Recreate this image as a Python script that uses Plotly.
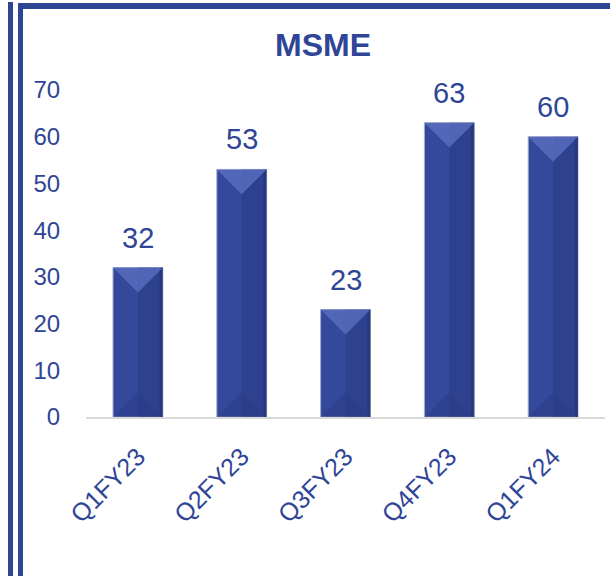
import plotly.graph_objects as go

categories = ["Q1FY23", "Q2FY23", "Q3FY23", "Q4FY23", "Q1FY24"]
values = [32, 53, 23, 63, 60]
y_ticks = [0, 10, 20, 30, 40, 50, 60, 70]
title_text = "MSME"

W, H = 610, 576
ML, MR, MT, MB = 86, 5, 90, 159
PW, PH = W - ML - MR, H - MT - MB
YMAX = 70
BAR_W = 0.48

TXT = "#2F4596"
BAR = "#34489C"
FONT = "Liberation Sans, Arial, sans-serif"

fig = go.Figure()
xs = list(range(len(categories)))
fig.add_trace(go.Bar(
    x=xs, y=values, width=BAR_W,
    marker=dict(color=BAR, line=dict(color="#A7AECB", width=1)),
    cliponaxis=False,
))

annotations = []
for i, v in zip(xs, values):
    annotations.append(dict(x=i, y=v, xref="x", yref="y", text=str(v), showarrow=False,
                            yanchor="bottom", xanchor="center", yshift=12,
                            font=dict(size=29, color=TXT, family=FONT)))

# bevel shading derived from data
px_per_unit_y = PH / YMAX
px_per_cat = PW / len(categories)
d_units = (BAR_W / 2) * px_per_cat / px_per_unit_y
shapes = []
for i, v in zip(xs, values):
    l, r = i - BAR_W / 2, i + BAR_W / 2
    shapes.append(dict(type="rect", xref="x", yref="y", x0=i, x1=r, y0=0, y1=v,
                       fillcolor="#27397F", opacity=0.45, line=dict(width=0), layer="above"))
    shapes.append(dict(type="rect", xref="x", yref="y", x0=r - 0.03, x1=r, y0=0, y1=v,
                       fillcolor="#1E2D6A", opacity=0.5, line=dict(width=0), layer="above"))
    dd = min(d_units, v / 2)
    shapes.append(dict(type="path", xref="x", yref="y",
                       path=f"M {l},{v} L {r},{v} L {i},{v - dd} Z",
                       fillcolor="#5C71C2", opacity=0.75, line=dict(width=0), layer="above"))
    shapes.append(dict(type="path", xref="x", yref="y",
                       path=f"M {l},0 L {r},0 L {i},{dd} Z",
                       fillcolor="#2A3C85", opacity=0.5, line=dict(width=0), layer="above"))

def px_x(p):
    return (p - ML) / PW

def px_y(p):
    return (H - MB - p) / PH

BC = "#2E4593"
shapes.append(dict(type="line", xref="paper", yref="paper",
                   x0=px_x(10.5), x1=px_x(10.5), y0=px_y(2), y1=px_y(580),
                   line=dict(color=BC, width=5)))
shapes.append(dict(type="line", xref="paper", yref="paper",
                   x0=px_x(20.5), x1=px_x(20.5), y0=px_y(4), y1=px_y(580),
                   line=dict(color=BC, width=5)))
shapes.append(dict(type="line", xref="paper", yref="paper",
                   x0=px_x(18), x1=px_x(615), y0=px_y(6), y1=px_y(6),
                   line=dict(color=BC, width=6)))

fig.update_layout(
    width=W, height=H,
    margin=dict(l=ML, r=MR, t=MT, b=MB),
    paper_bgcolor="white", plot_bgcolor="white",
    showlegend=False,
    title=dict(text=f"<b>{title_text}</b>", x=323 / W, y=1 - 45 / H,
               xref="container", yref="container", xanchor="center", yanchor="middle",
               font=dict(size=32, color=TXT, family=FONT)),
    xaxis=dict(tickmode="array", tickvals=xs, ticktext=categories, range=[-0.5, 4.5],
               tickangle=-45, tickfont=dict(size=25, color=TXT, family=FONT),
               showline=True, linecolor="#D9D9D9", linewidth=2, showgrid=False,
               zeroline=False, ticks="outside", ticklen=13, tickcolor="rgba(0,0,0,0)"),
    yaxis=dict(range=[0, YMAX], tickvals=y_ticks, showgrid=False, zeroline=False,
               showline=False, tickfont=dict(size=24, color=TXT, family=FONT),
               ticks="outside", ticklen=20, tickcolor="rgba(0,0,0,0)"),
    shapes=shapes,
    annotations=annotations,
)

fig.write_html("out.html")
